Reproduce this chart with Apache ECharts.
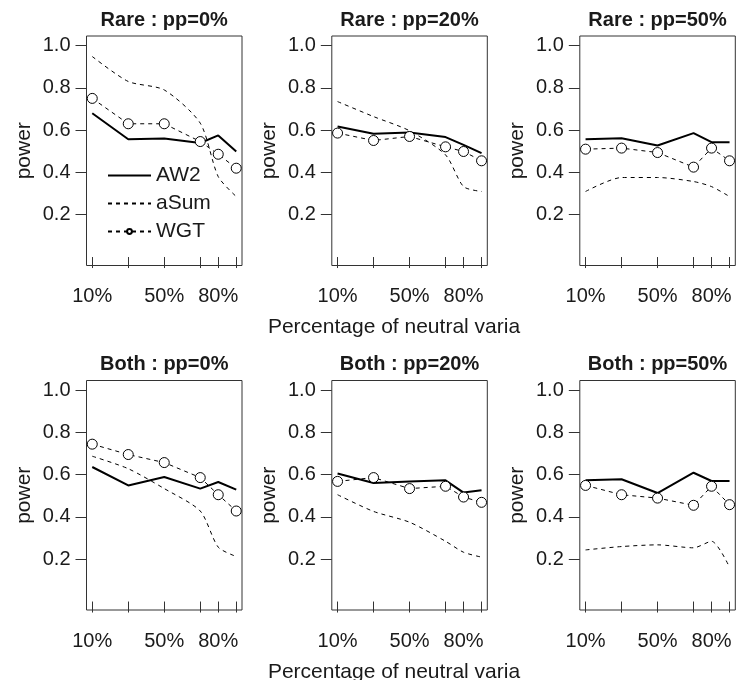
<!DOCTYPE html>
<html>
<head>
<meta charset="utf-8">
<script src="https://cdn.jsdelivr.net/npm/echarts@6/dist/echarts.min.js"></script>
<style>
  html, body { margin: 0; padding: 0; background: #fff; }
  #main { width: 740px; height: 680px; }
</style>
</head>
<body>
<div id="main"></div>
<script>
// percentage of neutral variants (x positions of the points)
var xPct = [10, 30, 50, 70, 80, 90];
var xTickVals = [10, 30, 50, 70, 80, 90];
var xLabelVals = [10, 50, 80];
var yTickVals = [0.2, 0.4, 0.6, 0.8, 1.0];

var panelTitles = ['Rare : pp=0%', 'Rare : pp=20%', 'Rare : pp=50%',
                   'Both : pp=0%', 'Both : pp=20%', 'Both : pp=50%'];
var seriesNames = ['AW2', 'aSum', 'WGT'];

// one row per panel, same order as panelTitles
var aw2 = [
  [0.68, 0.557, 0.56, 0.539, 0.575, 0.499],
  [0.617, 0.583, 0.589, 0.567, 0.53, 0.491],
  [0.557, 0.562, 0.527, 0.586, 0.543, 0.543],
  [0.636, 0.549, 0.589, 0.534, 0.565, 0.529],
  [0.605, 0.56, 0.568, 0.573, 0.515, 0.526],
  [0.573, 0.578, 0.513, 0.609, 0.57, 0.57]
];
var aSum = [
  [0.948, 0.83, 0.79, 0.633, 0.38, 0.286],
  [0.735, 0.664, 0.597, 0.483, 0.333, 0.31],
  [0.31, 0.376, 0.376, 0.357, 0.333, 0.286],
  [0.687, 0.628, 0.534, 0.428, 0.257, 0.213],
  [0.505, 0.426, 0.375, 0.285, 0.233, 0.21],
  [0.244, 0.26, 0.268, 0.254, 0.285, 0.162]
];
var wgt = [
  [0.75, 0.63, 0.63, 0.546, 0.486, 0.42],
  [0.586, 0.551, 0.57, 0.521, 0.499, 0.455],
  [0.51, 0.515, 0.494, 0.425, 0.515, 0.455],
  [0.744, 0.695, 0.657, 0.586, 0.505, 0.428],
  [0.568, 0.586, 0.534, 0.545, 0.494, 0.469],
  [0.549, 0.505, 0.489, 0.455, 0.545, 0.458]
];

var FONT = '"Liberation Sans", Arial, Helvetica, sans-serif';
var TXT = '#1a1a1a';
var colLeft = [86.5, 331.8, 579.8];
var rowTop = [36, 380.5];
var gw = 155.5, gh = 229.5;

var chart = echarts.init(document.getElementById('main'));

function pts(arr) {
  return xPct.map(function (x, i) { return [x, arr[i]]; });
}

var grids = [], xAxes = [], yAxes = [], series = [], graphics = [];
for (var p = 0; p < 6; p++) {
  var c = p % 3, r = Math.floor(p / 3);
  grids.push({
    left: colLeft[c], top: rowTop[r], width: gw, height: gh,
    show: true, borderColor: '#333', borderWidth: 1
  });
  xAxes.push({
    gridIndex: p, type: 'value', min: 6.8, max: 93.2,
    axisLine: { show: false },
    splitLine: { show: false },
    axisTick: { show: true, length: 11, customValues: xTickVals, lineStyle: { color: '#333' } },
    axisLabel: {
      customValues: xLabelVals, formatter: '{value}%', margin: 21,
      fontSize: 20, color: TXT, fontFamily: FONT
    }
  });
  yAxes.push({
    gridIndex: p, type: 'value', min: -0.04, max: 1.045,
    axisLine: { show: false },
    splitLine: { show: false },
    axisTick: { show: true, length: 11, customValues: yTickVals, lineStyle: { color: '#333' } },
    axisLabel: {
      customValues: yTickVals, margin: 16, fontSize: 20, color: TXT, fontFamily: FONT,
      formatter: function (v) { return v.toFixed(1); }
    },
    name: 'power', nameLocation: 'middle', nameGap: 52,
    nameTextStyle: { fontSize: 21, color: TXT, fontFamily: FONT }
  });
  series.push({
    name: 'AW2', type: 'line', xAxisIndex: p, yAxisIndex: p, data: pts(aw2[p]),
    symbol: 'none', lineStyle: { color: '#000', width: 2 }, itemStyle: { color: '#000' },
    silent: true, animation: false
  });
  series.push({
    name: 'aSum', type: 'line', xAxisIndex: p, yAxisIndex: p, data: pts(aSum[p]),
    symbol: 'none', smooth: 0.25,
    lineStyle: { color: '#000', width: 1, type: [4, 4] }, itemStyle: { color: '#000' },
    silent: true, animation: false
  });
  series.push({
    name: 'WGT', type: 'line', xAxisIndex: p, yAxisIndex: p, data: pts(wgt[p]),
    symbol: 'circle', symbolSize: 10,
    lineStyle: { color: '#000', width: 1, type: [4, 4] },
    itemStyle: { color: '#fff', borderColor: '#000', borderWidth: 1 },
    silent: true, animation: false
  });
  graphics.push({
    type: 'text', x: colLeft[c] + gw / 2, y: rowTop[r] - 16,
    style: {
      text: panelTitles[p], align: 'center', verticalAlign: 'middle',
      font: 'bold 20px ' + FONT, fill: TXT
    }
  });
}
// x axis label under middle column of each row
for (var r2 = 0; r2 < 2; r2++) {
  graphics.push({
    type: 'text', x: 394, y: rowTop[r2] + gh + 62,
    style: {
      text: 'Percentage of neutral varia', align: 'center', verticalAlign: 'middle',
      font: '21px ' + FONT, fill: TXT
    }
  });
}

var option = {
  backgroundColor: '#fff',
  animation: false,
  grid: grids,
  xAxis: xAxes,
  yAxis: yAxes,
  legend: {
    data: [
      { name: seriesNames[0], itemStyle: { opacity: 0 } },
      { name: seriesNames[1], itemStyle: { opacity: 0 } },
      { name: seriesNames[2] }
    ],
    orient: 'vertical',
    left: 102, top: 160,
    itemWidth: 43, itemHeight: 6, itemGap: 7,
    selectedMode: false,
    textStyle: { fontSize: 21, color: TXT, fontFamily: FONT }
  },
  graphic: graphics,
  series: series
};
chart.setOption(option);
</script>
</body>
</html>
